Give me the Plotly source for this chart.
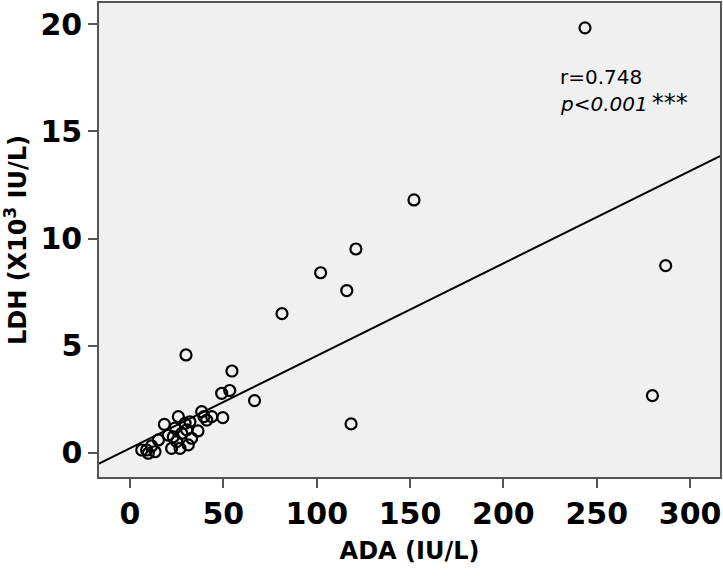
import plotly.graph_objects as go
import numpy as np

# ADA (IU/L) vs LDH (x10^3 IU/L)
ada = [243.7, 152.1, 121.0, 102.1, 116.1, 81.4, 286.9, 279.8, 118.4, 30.0,
       54.6, 53.4, 49.1, 66.7, 49.7,
       6.3, 8.9, 9.8, 11.6, 13.4, 15.2, 18.4, 20.5, 22.3, 23.2,
       25.0, 24.1, 25.9, 26.8, 27.7, 29.5, 30.4, 31.2, 32.1, 33.0,
       36.4, 38.4, 39.6, 41.1, 43.8]
ldh = [19.84, 11.80, 9.51, 8.40, 7.57, 6.49, 8.73, 2.66, 1.34, 4.56,
       3.81, 2.90, 2.77, 2.43, 1.63,
       0.12, 0.12, -0.03, 0.31, 0.04, 0.59, 1.32, 0.82, 0.20, 0.74,
       0.51, 1.14, 1.68, 0.20, 0.90, 1.37, 1.06, 0.36, 1.44, 0.67,
       1.01, 1.91, 1.68, 1.52, 1.68]

fit_intercept = 0.2
fit_slope = 0.0432
x_range = [-16.6, 316]
y_range = [-1.14, 21.0]
x_ticks = [0, 50, 100, 150, 200, 250, 300]
y_ticks = [0, 5, 10, 15, 20]

FONT = "DejaVu Sans"

fig = go.Figure()

fit_x = np.array(x_range)
fig.add_trace(go.Scatter(x=fit_x, y=fit_intercept + fit_slope * fit_x, mode='lines',
                         line=dict(color='black', width=2), hoverinfo='skip'))
fig.add_trace(go.Scatter(x=ada, y=ldh, mode='markers',
                         marker=dict(symbol='circle-open', size=11, color='black',
                                     line=dict(color='black', width=2.2))))

fig.add_annotation(x=229.2, y=17.55, xref='x', yref='y', text="r=0.748",
                   showarrow=False, xanchor='left', yanchor='middle',
                   font=dict(family=FONT, size=20, color='black'))
fig.add_annotation(x=229.2, y=16.33, xref='x', yref='y',
                   text="<i>p&lt;0.001</i>&#8201;<span style='font-size:24px'>***</span>",
                   showarrow=False, xanchor='left', yanchor='middle',
                   font=dict(family=FONT, size=20, color='black'))

axis_common = dict(showgrid=False, zeroline=False, showline=True, mirror=True,
                   automargin=False,
                   linecolor='#555555', linewidth=1.5, ticks='outside', ticklen=9,
                   tickwidth=1.5, tickcolor='#555555',
                   tickfont=dict(family=FONT, size=30, color='black', weight='bold'))
fig.update_xaxes(range=x_range, tickvals=x_ticks,
                 title=dict(text="ADA (IU/L)", standoff=12,
                            font=dict(family=FONT, size=24, color='black', weight='bold')),
                 **axis_common)
fig.update_yaxes(range=y_range, tickvals=y_ticks,
                 title=dict(text="LDH (X10<sup>3</sup> IU/L)", standoff=12,
                            font=dict(family=FONT, size=24, color='black', weight='bold')),
                 **axis_common)

fig.update_layout(width=723, height=579, autosize=False, showlegend=False,
                  plot_bgcolor='#f0f0f0', paper_bgcolor='white',
                  margin=dict(l=99, r=3, t=3, b=102),
                  font=dict(family=FONT))

# drop the browser's default body margin so the figure sits at the page corner
fig.write_html("out.html", config={'displayModeBar': False},
               post_script="document.body.style.margin='0';")
